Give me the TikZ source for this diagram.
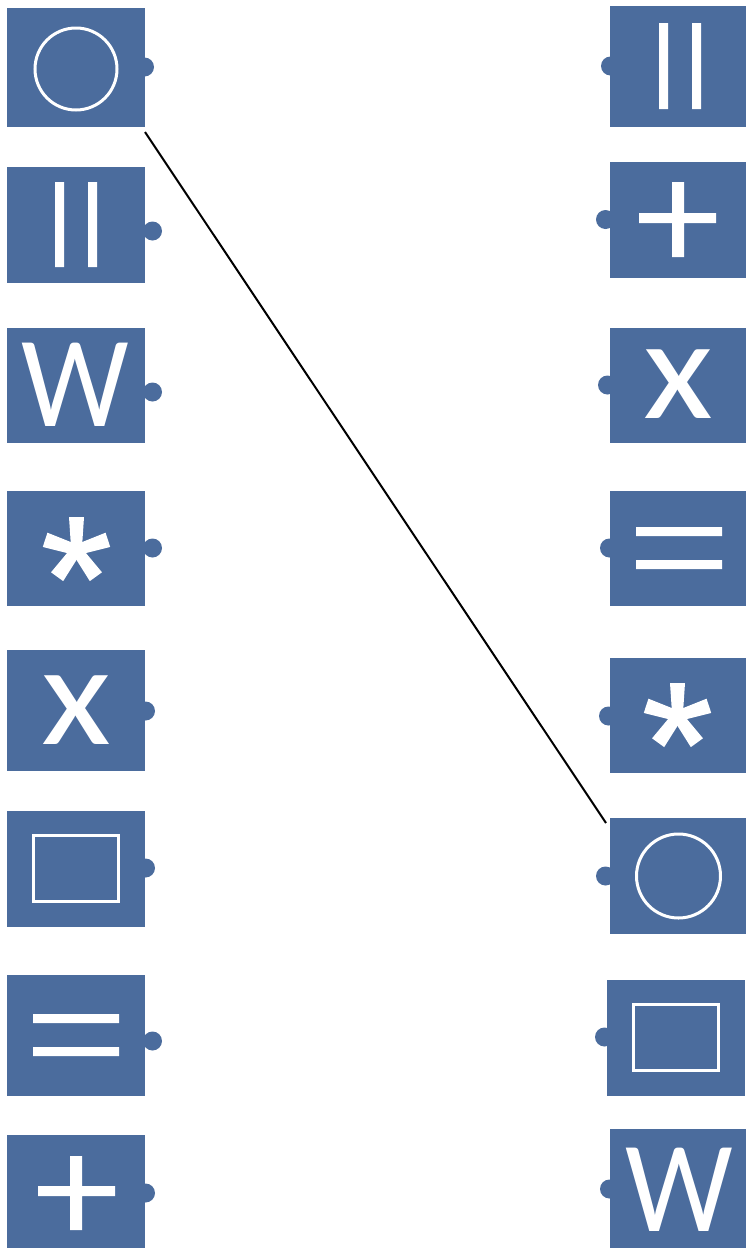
\documentclass[tikz,border=0pt]{standalone}
\usepackage{fontspec}
\setmainfont{Carlito}
\definecolor{tileblue}{HTML}{4B6C9D}
\tikzset{
  tile/.style={fill=tileblue, draw=none, inner sep=0pt, anchor=north west, rectangle},
  pin/.style={circle, fill=tileblue, draw=none, inner sep=0pt, minimum size=19pt},
  glyph/.style={text=white, inner sep=0pt, anchor=base},
  bigW/.style={glyph, font=\fontsize{130}{130}\selectfont, xscale=0.93},
  bigX/.style={glyph, font=\fontsize{144}{144}\selectfont, xscale=1.12},
  iconline/.style={draw=white, line width=3pt},
  link/.style={draw=black, line width=2pt}
}
\newcommand{\astk}[3]{% name, cx, cy
  \foreach \k in {0,1,2,3,4}{
    \fill[white, rotate around={72*\k:(#2,#3)}] (#2-5.3,#3) -- (#2-7.5,#3-33) -- (#2+7.5,#3-33) -- (#2+5.3,#3) -- cycle;
  }
  \fill[white] (#2,#3) circle (6);
  \coordinate (#1) at (#2,#3);
}
\begin{document}
\begin{tikzpicture}[x=1pt, y=-1pt]
\useasboundingbox (0,0) rectangle (746,1248);
% pins (behind tiles)
\node[pin] (L1d) at (144.5,67) {};
\node[pin] (L2d) at (152.5,231) {};
\node[pin] (L3d) at (152.5,392) {};
\node[pin] (L4d) at (152.5,548) {};
\node[pin] (L5d) at (145.5,711) {};
\node[pin] (L6d) at (145.5,868) {};
\node[pin] (L7d) at (152.5,1041) {};
\node[pin] (L8d) at (145.5,1193) {};
\node[pin] (R1d) at (610.5,66) {};
\node[pin] (R2d) at (605.5,219.5) {};
\node[pin] (R3d) at (607.5,385) {};
\node[pin] (R4d) at (609.5,548) {};
\node[pin] (R5d) at (608.5,716) {};
\node[pin] (R6d) at (605.5,876) {};
\node[pin] (R7d) at (604.5,1037) {};
\node[pin] (R8d) at (609.5,1189) {};
% left tiles
\node[tile, minimum width=138pt, minimum height=119pt] (L1) at (7,8) {};
\node[tile, minimum width=138pt, minimum height=116pt] (L2) at (7,167) {};
\node[tile, minimum width=138pt, minimum height=115pt] (L3) at (7,328) {};
\node[tile, minimum width=138pt, minimum height=115pt] (L4) at (7,491) {};
\node[tile, minimum width=138pt, minimum height=121pt] (L5) at (7,650) {};
\node[tile, minimum width=138pt, minimum height=116pt] (L6) at (7,811) {};
\node[tile, minimum width=138pt, minimum height=121pt] (L7) at (7,975) {};
\node[tile, minimum width=138pt, minimum height=113pt] (L8) at (7,1135) {};
% right tiles
\node[tile, minimum width=136pt, minimum height=121pt] (R1) at (610,6) {};
\node[tile, minimum width=136pt, minimum height=116pt] (R2) at (610,162) {};
\node[tile, minimum width=136pt, minimum height=115pt] (R3) at (610,328) {};
\node[tile, minimum width=136pt, minimum height=115pt] (R4) at (610,491) {};
\node[tile, minimum width=136pt, minimum height=115pt] (R5) at (610,658) {};
\node[tile, minimum width=136pt, minimum height=116pt] (R6) at (610,818) {};
\node[tile, minimum width=138pt, minimum height=116pt] (R7) at (607,980) {};
\node[tile, minimum width=136pt, minimum height=119pt] (R8) at (610,1129) {};
% icons: circles
\draw[iconline] (76,69) circle (41);
\draw[iconline] (678.5,876) circle (42);
% icons: parallel bars
\fill[white] (55,182) rectangle (64,267) (88,182) rectangle (97,267);
\fill[white] (659,23) rectangle (668,109) (692,23) rectangle (701,109);
% icons: plus
\fill[white] (639,213) rectangle (716,223) (672,182) rectangle (684,257);
\fill[white] (38,1186) rectangle (115,1196) (70,1156) rectangle (82,1230);
% icons: rectangles
\draw[iconline] (33.8,835.5) rectangle (118.5,901.5);
\draw[iconline] (633.8,1004.8) rectangle (718.2,1070.2);
% icons: equals
\fill[white] (33,1014) rectangle (119,1023) (33,1047) rectangle (119,1056);
\fill[white] (636,527) rectangle (722,536) (636,560) rectangle (722,569);
% icons: letters
\node[bigW] (L3t) at (75.5,426) {W};
\node[bigW] (R8t) at (679,1231) {W};
\node[bigX] (L5t) at (76,744) {x};
\node[bigX] (R3t) at (678.5,418) {x};
% icons: asterisks
\astk{L4s}{76.5}{550}
\astk{R5s}{677.5}{716}
% connector
\coordinate (ca) at (145,132);
\coordinate (cb) at (606,823);
\draw[link] (ca) -- (cb);
\end{tikzpicture}
\end{document}
